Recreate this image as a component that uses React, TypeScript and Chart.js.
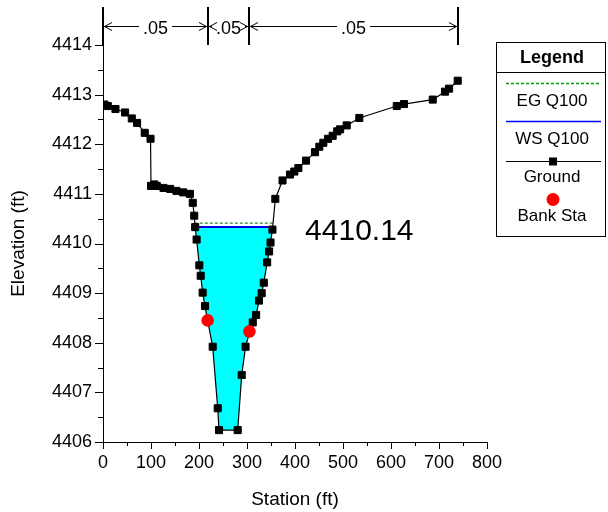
import React, { useEffect, useRef } from 'react';
import { Chart, registerables } from 'chart.js';

Chart.register(...registerables);

// ---- data ----
const groundStations = [3, 10, 26, 46, 60, 71, 87, 99, 100, 107, 112, 126, 140, 153, 167, 181, 187, 190, 192, 195, 200.7, 203.5, 207.6, 212.5, 218, 228.5, 239, 241.7, 280.6, 289, 297, 305, 312, 319, 325, 330.6, 335, 342, 346, 349, 353, 359, 374, 389.6, 398.6, 407, 423, 441.7, 450.7, 459, 469, 478.5, 488, 494, 507.7, 534, 612, 627, 687, 712.5, 721, 739];
const groundElevations = [4412.8, 4412.77, 4412.71, 4412.64, 4412.52, 4412.43, 4412.23, 4412.11, 4411.16, 4411.19, 4411.16, 4411.12, 4411.1, 4411.06, 4411.03, 4411.0, 4410.82, 4410.56, 4410.33, 4410.08, 4409.56, 4409.35, 4409.01, 4408.74, 4408.45, 4407.92, 4406.68, 4406.24, 4406.24, 4407.35, 4407.92, 4408.2, 4408.41, 4408.56, 4408.85, 4409.0, 4409.21, 4409.62, 4409.84, 4410.02, 4410.28, 4410.9, 4411.27, 4411.39, 4411.45, 4411.52, 4411.67, 4411.84, 4411.95, 4412.03, 4412.11, 4412.17, 4412.26, 4412.3, 4412.38, 4412.53, 4412.77, 4412.81, 4412.9, 4413.06, 4413.12, 4413.28];
const bankStations = [218, 305];
const bankElevations = [4408.45, 4408.23];
const wsStations = [192, 353.5];
const wsElevation = 4410.33;
const egStations = [191.3, 354.3];
const egElevation = 4410.41;
const nValueStations = [0, 219, 305, 740];
const nValueLabels = ['.05', '.05', '.05'];
const sectionLabel = '4410.14';
const sectionLabelAnchor = [534, 4410.24];
const legendTitle = 'Legend';
const legendLabels = ['EG Q100', 'WS Q100', 'Ground', 'Bank Sta'];
const xTitle = 'Station (ft)';
const yTitle = 'Elevation (ft)';
const xRange = [0, 800];
const yRange = [4406, 4414];

const FONT = '"Liberation Sans", Arial, sans-serif';

const ground = groundStations.map((s, i) => ({ x: s, y: groundElevations[i] }));
const banks = bankStations.map((s, i) => ({ x: s, y: bankElevations[i] }));
const wsLine = wsStations.map((s) => ({ x: s, y: wsElevation }));
const egLine = egStations.map((s) => ({ x: s, y: egElevation }));
const water = [
  ...wsLine,
  ...ground.filter((p) => p.x > wsStations[0] && p.x < wsStations[1]).reverse(),
];

const tickPlugin = {
  id: 'customTicks',
  afterDraw(chart: any) {
    const ctx = chart.ctx;
    const xs = chart.scales.x;
    const ys = chart.scales.y;
    const area = chart.chartArea;
    ctx.save();
    ctx.strokeStyle = '#000';
    ctx.lineWidth = 1;
    ctx.beginPath();
    xs.ticks.forEach((t: any) => {
      const p = Math.round(xs.getPixelForValue(t.value)) + 0.5;
      const len = t.value % 100 === 0 ? 7 : 4;
      ctx.moveTo(p, area.bottom);
      ctx.lineTo(p, area.bottom + len);
    });
    ys.ticks.forEach((t: any) => {
      const p = Math.round(ys.getPixelForValue(t.value)) + 0.5;
      const len = Number.isInteger(t.value) ? 8 : 5;
      ctx.moveTo(area.left, p);
      ctx.lineTo(area.left - len, p);
    });
    ctx.stroke();
    ctx.restore();
  },
};

const nValuePlugin = {
  id: 'nValues',
  afterDraw(chart: any) {
    const ctx = chart.ctx;
    const xs = chart.scales.x;
    const area = chart.chartArea;
    const yTop = 7;
    const yArrow = 26;
    ctx.save();
    ctx.strokeStyle = '#000';
    ctx.lineWidth = 2;
    const px = nValueStations.map((s) => Math.round(xs.getPixelForValue(s)));
    ctx.beginPath();
    px.forEach((x) => {
      ctx.moveTo(x, yTop);
      ctx.lineTo(x, area.top);
    });
    ctx.stroke();
    ctx.font = '18px ' + FONT;
    ctx.textAlign = 'center';
    ctx.textBaseline = 'middle';
    ctx.fillStyle = '#000';
    ctx.lineWidth = 1;
    for (let i = 0; i < nValueLabels.length; i++) {
      const x0 = px[i];
      const x1 = px[i + 1];
      const mid = (x0 + x1) / 2;
      const tw = ctx.measureText(nValueLabels[i]).width;
      const gapL = mid - tw / 2 - 4;
      const gapR = mid + tw / 2 + 4;
      ctx.beginPath();
      if (gapL > x0 + 2) {
        ctx.moveTo(x0 + 1, yArrow + 0.5);
        ctx.lineTo(gapL, yArrow + 0.5);
      }
      if (gapR < x1 - 2) {
        ctx.moveTo(gapR, yArrow + 0.5);
        ctx.lineTo(x1 - 1, yArrow + 0.5);
      }
      // arrow heads
      ctx.moveTo(x0 + 9, yArrow - 3.5);
      ctx.lineTo(x0 + 1.5, yArrow + 0.5);
      ctx.lineTo(x0 + 9, yArrow + 4.5);
      ctx.moveTo(x1 - 9, yArrow - 3.5);
      ctx.lineTo(x1 - 1.5, yArrow + 0.5);
      ctx.lineTo(x1 - 9, yArrow + 4.5);
      ctx.stroke();
      ctx.fillText(nValueLabels[i], mid, 29);
    }
    // section label
    ctx.font = '30px ' + FONT;
    ctx.fillText(
      sectionLabel,
      xs.getPixelForValue(sectionLabelAnchor[0]),
      chart.scales.y.getPixelForValue(sectionLabelAnchor[1])
    );
    ctx.restore();
  },
};

const legendPlugin = {
  id: 'boxLegend',
  afterDraw(chart: any) {
    const ctx = chart.ctx;
    const left = 496.5;
    const right = 605.5;
    const top = 42.5;
    const bottom = 236.5;
    const cx = 552;
    const lx0 = 506;
    const lx1 = 601;
    ctx.save();
    ctx.fillStyle = '#fff';
    ctx.fillRect(left, top, right - left, bottom - top);
    ctx.strokeStyle = '#000';
    ctx.lineWidth = 1;
    ctx.strokeRect(left, top, right - left, bottom - top);
    ctx.beginPath();
    ctx.moveTo(left, 72.5);
    ctx.lineTo(right, 72.5);
    ctx.stroke();

    ctx.fillStyle = '#000';
    ctx.textAlign = 'center';
    ctx.textBaseline = 'middle';
    ctx.font = 'bold 18px ' + FONT;
    ctx.fillText(legendTitle, cx, 58);

    // EG
    ctx.strokeStyle = '#00a000';
    ctx.lineWidth = 1.5;
    ctx.setLineDash([3, 2]);
    ctx.beginPath();
    ctx.moveTo(lx0, 83.5);
    ctx.lineTo(lx1, 83.5);
    ctx.stroke();
    ctx.setLineDash([]);
    // WS
    ctx.strokeStyle = '#0000ff';
    ctx.beginPath();
    ctx.moveTo(lx0, 121.5);
    ctx.lineTo(lx1, 121.5);
    ctx.stroke();
    // Ground
    ctx.lineWidth = 1;
    ctx.strokeStyle = '#000';
    ctx.beginPath();
    ctx.moveTo(lx0, 161.5);
    ctx.lineTo(lx1, 161.5);
    ctx.stroke();
    ctx.fillStyle = '#000';
    ctx.fillRect(549, 157.5, 8, 8);
    // Bank
    ctx.fillStyle = '#ff0000';
    ctx.beginPath();
    ctx.arc(553, 199.5, 6.5, 0, Math.PI * 2);
    ctx.fill();

    ctx.fillStyle = '#000';
    ctx.font = '17px ' + FONT;
    ctx.fillText(legendLabels[0], cx, 101);
    ctx.fillText(legendLabels[1], cx, 139);
    ctx.fillText(legendLabels[2], cx, 177);
    ctx.fillText(legendLabels[3], cx, 216.5);
    ctx.restore();
  },
};

export default function App() {
  const canvasRef = useRef<HTMLCanvasElement | null>(null);

  useEffect(() => {
    if (!canvasRef.current) return;
    const chart = new Chart(canvasRef.current, {
      type: 'scatter',
      data: {
        datasets: [
          {
            label: 'Bank Sta',
            data: banks,
            showLine: false,
            pointStyle: 'circle',
            pointRadius: 6.3,
            pointBackgroundColor: '#ff0000',
            pointBorderColor: '#ff0000',
            pointBorderWidth: 0,
          },
          {
            label: 'Ground',
            data: ground,
            showLine: true,
            borderColor: '#000',
            borderWidth: 1.2,
            tension: 0,
            pointStyle: 'rect',
            pointRadius: 5,
            pointBackgroundColor: '#000',
            pointBorderColor: '#000',
            pointBorderWidth: 1,
          },
          {
            label: 'WS Q100',
            data: wsLine,
            showLine: true,
            borderColor: '#0000e0',
            borderWidth: 2,
            pointRadius: 0,
          },
          {
            label: 'EG Q100',
            data: egLine,
            showLine: true,
            borderColor: '#2e8b2e',
            borderWidth: 1.2,
            borderDash: [3, 2],
            pointRadius: 0,
          },
          {
            label: 'water',
            data: water,
            showLine: true,
            borderColor: 'rgba(0,0,0,0)',
            borderWidth: 0,
            backgroundColor: '#00ffff',
            fill: 'shape',
            pointRadius: 0,
            tension: 0,
          },
        ],
      } as any,
      options: {
        responsive: false,
        animation: false,
        devicePixelRatio: 1,
        events: [],
        layout: { padding: { top: 45, right: 121, bottom: 0, left: 0 } },
        plugins: {
          legend: { display: false },
          tooltip: { enabled: false },
        },
        scales: {
          x: {
            type: 'linear',
            min: xRange[0],
            max: xRange[1],
            afterFit: (scale: any) => {
              scale.height = 70;
            },
            grid: { display: true, drawOnChartArea: false, drawTicks: true, tickLength: 7, color: 'rgba(0,0,0,0)' },
            border: { display: true, color: '#000', width: 1 },
            ticks: {
              stepSize: 50,
              autoSkip: false,
              maxRotation: 0,
              padding: 3,
              color: '#000',
              font: { family: FONT, size: 18 },
              callback: (v: any) => (Number(v) % 100 === 0 ? String(v) : ''),
            },
            title: {
              display: true,
              text: xTitle,
              color: '#000',
              font: { family: FONT, size: 19 },
              padding: { top: 0, bottom: 1 },
            },
          },
          y: {
            type: 'linear',
            min: yRange[0],
            max: yRange[1],
            afterFit: (scale: any) => {
              scale.width = 103;
            },
            grid: { display: true, drawOnChartArea: false, drawTicks: true, tickLength: 8, color: 'rgba(0,0,0,0)' },
            border: { display: true, color: '#000', width: 1 },
            ticks: {
              stepSize: 0.5,
              autoSkip: false,
              padding: 3,
              color: '#000',
              font: { family: FONT, size: 18 },
              callback: (v: any) => (Number.isInteger(Number(v)) ? String(v) : ''),
            },
            title: {
              display: true,
              text: yTitle,
              color: '#000',
              font: { family: FONT, size: 19 },
              padding: { top: 7, bottom: 0 },
            },
          },
        },
      } as any,
      plugins: [tickPlugin, nValuePlugin, legendPlugin],
    });
    return () => chart.destroy();
  }, []);

  return (
    <div style={{ position: 'fixed', left: 0, top: 0, width: 608, height: 512, background: '#fff' }}>
      <canvas ref={canvasRef} width={608} height={512} style={{ display: 'block', width: 608, height: 512 }} />
    </div>
  );
}
